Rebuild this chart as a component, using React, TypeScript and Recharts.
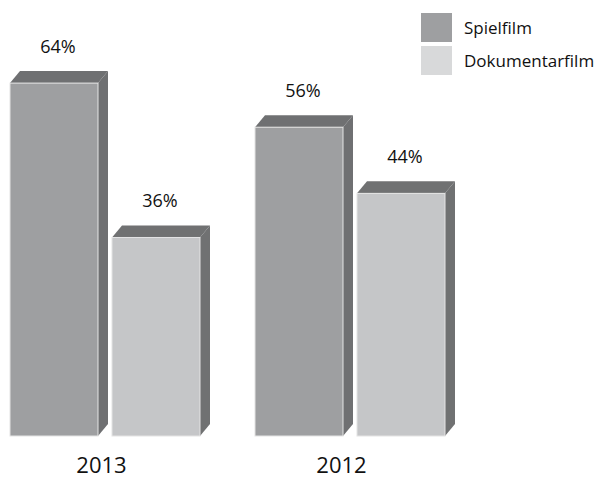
import { BarChart, Bar, XAxis, YAxis, LabelList } from "recharts";

const years = ["2013", "2012"];
const spielfilm = [64, 56];
const dokumentarfilm = [36, 44];
const seriesNames = ["Spielfilm", "Dokumentarfilm"];

const data = years.map((year, i) => ({
  year,
  Spielfilm: spielfilm[i],
  Dokumentarfilm: dokumentarfilm[i],
}));

const colors = {
  Spielfilm: { front: "#9e9fa1", dark: "#6f7072", legend: "#9e9fa1" },
  Dokumentarfilm: { front: "#c5c6c8", dark: "#707172", legend: "#d8d9da" },
};

const FONT = "'Open Sans', 'Noto Sans', sans-serif";
const DX = 10;
const DY = 12;
const SHIFT = 18.5; // chart starts slightly off the left edge of the page

function makeBox(c: { front: string; dark: string }) {
  return (props: any) => {
    const { x, y, width: w, height: h } = props;
    return (
      <g>
        <polygon
          points={`${x + w},${y} ${x + w + DX},${y - DY} ${x + w + DX},${y + h - DY} ${x + w},${y + h}`}
          fill={c.dark}
        />
        <polygon
          points={`${x},${y} ${x + DX},${y - DY} ${x + w + DX},${y - DY} ${x + w},${y}`}
          fill={c.dark}
        />
        <rect x={x} y={y} width={w} height={h} fill={c.front} stroke="#e4e4e4" strokeWidth={1} />
      </g>
    );
  };
}

const ValueLabel = (props: any) => {
  const { x, y, width, value } = props;
  return (
    <text
      x={x + width / 2 + 4}
      y={y - 37}
      textAnchor="middle"
      dominantBaseline="central"
      fontFamily={FONT}
      fontSize={18}
      fill="#111"
    >
      {value}%
    </text>
  );
};

// year labels sit a little left of the group centre in the original
const tickShift = [-3, -8];

const YearTick = (props: any) => {
  const { x, y, payload, index } = props;
  return (
    <text
      x={x + tickShift[index]}
      y={y + 29}
      textAnchor="middle"
      fontFamily={FONT}
      fontSize={22}
      fill="#111"
    >
      {payload.value}
    </text>
  );
};

const LegendBox = () => (
  <div
    style={{
      position: "absolute",
      left: 421,
      top: 11,
      fontFamily: FONT,
      fontSize: 17,
      color: "#111",
    }}
  >
    {seriesNames.map((name) => (
      <div key={name} style={{ display: "flex", alignItems: "center", height: 33 }}>
        <div
          style={{
            width: 31,
            height: 29,
            background: colors[name as keyof typeof colors].legend,
            marginRight: 12,
          }}
        />
        <span>{name}</span>
      </div>
    ))}
  </div>
);

export default function App() {
  return (
    <div
      style={{
        position: "absolute",
        left: 0,
        top: 0,
        width: 604,
        height: 480,
        overflow: "hidden",
        background: "#fff",
      }}
    >
      <div style={{ position: "absolute", left: -SHIFT, top: 0 }}>
        <BarChart
          width={604 + SHIFT}
          height={480}
          data={data}
          margin={{ top: 50, right: 604 + SHIFT - 490, left: 0, bottom: 0 }}
          barSize={88}
          barGap={14}
        >
          <XAxis dataKey="year" axisLine={false} tickLine={false} height={44} tick={<YearTick />} interval={0} />
          <YAxis hide domain={[0, 70]} />
          <Bar dataKey="Spielfilm" shape={makeBox(colors.Spielfilm)} isAnimationActive={false}>
            <LabelList dataKey="Spielfilm" content={<ValueLabel />} />
          </Bar>
          <Bar dataKey="Dokumentarfilm" shape={makeBox(colors.Dokumentarfilm)} isAnimationActive={false}>
            <LabelList dataKey="Dokumentarfilm" content={<ValueLabel />} />
          </Bar>
        </BarChart>
      </div>
      <LegendBox />
    </div>
  );
}
